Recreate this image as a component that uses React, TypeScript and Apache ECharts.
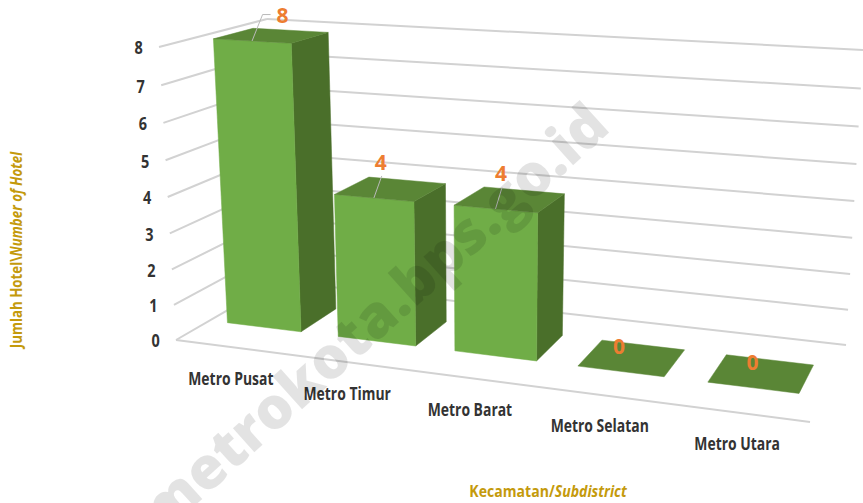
import React, { useEffect, useRef } from "react";
import * as echarts from "echarts";

const categories = ["Metro Pusat", "Metro Timur", "Metro Barat", "Metro Selatan", "Metro Utara"];
const hotelCounts = [8, 4, 4, 0, 0];
const yTicks = [0, 1, 2, 3, 4, 5, 6, 7, 8];
const yTitleMain = "Jumlah Hotel\\";
const yTitleItalic = "Number of Hotel";
const xTitleMain = "Kecamatan/";
const xTitleItalic = "Subdistrict";
const watermark = "metrokota.bps.go.id";

const W = 863;
const H = 503;
const Y_MAX = 8;
type P = [number, number];

// Perspective frame of the 3D chart: corners [front-left, front-right, back-right, back-left]
const FLOOR: P[] = [[176, 340], [810, 422], [846, 345], [278, 281]];
const TOP: P[] = [[159, 47], [822, 86], [863, 50], [267, 19]];
const HEIGHT_PERSPECTIVE = 0.953;
const BAR_FRONT = 0.305;
const BAR_BACK = 0.678;
const BAR_RATIO = 0.67;

// Offsets of the value labels from the centre of each bar's top face
const LABEL_OFFSETS: P[] = [[11, -21], [-10, -27], [-9, -26], [-13, -12], [-9, -11]];
// Leader lines: which bars have one
const LEADER_TAIL = [true, true, true, false, false];

function quadMap(q: P[]) {
  const [p0, p1, p2, p3] = q;
  const dx1 = p1[0] - p2[0], dy1 = p1[1] - p2[1];
  const dx2 = p3[0] - p2[0], dy2 = p3[1] - p2[1];
  const sx = p0[0] - p1[0] + p2[0] - p3[0], sy = p0[1] - p1[1] + p2[1] - p3[1];
  const D = dx1 * dy2 - dx2 * dy1;
  const g = (sx * dy2 - dx2 * sy) / D;
  const h = (dx1 * sy - sx * dy1) / D;
  const a = p1[0] - p0[0] + g * p1[0], b = p3[0] - p0[0] + h * p3[0], c = p0[0];
  const d = p1[1] - p0[1] + g * p1[1], e = p3[1] - p0[1] + h * p3[1], f = p0[1];
  return (u: number, w: number): P => {
    const z = g * u + h * w + 1;
    return [(a * u + b * w + c) / z, (d * u + e * w + f) / z];
  };
}
const floorMap = quadMap(FLOOR);
const topMap = quadMap(TOP);

// u: fraction across the chart, t: fraction of the height, w: fraction of the depth
function project(u: number, t: number, w: number): P {
  const s = (t * HEIGHT_PERSPECTIVE) / (t * HEIGHT_PERSPECTIVE + 1 - t);
  const a = floorMap(u, w), b = topMap(u, w);
  return [a[0] * (1 - s) + b[0] * s, a[1] * (1 - s) + b[1] * s];
}

const FONT = '"Open Sans", "Roboto", sans-serif';
const GRID_STYLE = { stroke: "#d2d2d2", lineWidth: 2, fill: "none" };

function line(a: P, b: P, style: any = GRID_STYLE) {
  return { type: "line", shape: { x1: a[0], y1: a[1], x2: b[0], y2: b[1] }, style };
}
function poly(points: P[], fill: string) {
  return {
    type: "polygon",
    shape: { points },
    style: { fill, stroke: fill, lineWidth: 0.5 },
  };
}
function axisText(text: string, x: number, y: number, size: number, scaleX: number) {
  return {
    type: "text",
    x,
    y,
    scaleX,
    style: {
      text,
      align: "center",
      verticalAlign: "middle",
      fill: "#333333",
      font: `bold ${size}px ${FONT}`,
    },
  };
}

const renderGrid = (_: any, api: any) => {
  const v = api.value(1);
  const t = (H - api.coord([0, v])[1]) / H;
  const children: any[] = [
    line(project(0, t, 0), project(0, t, 1)),
    line(project(0, t, 1), project(1, t, 1)),
  ];
  if (v === 0) children.push(line(project(0, 0, 0), project(1, 0, 0)));
  const s = project(0, t, 0);
  children.push(axisText(String(v), s[0] - 20.5, s[1] + 1, 17, 0.85));
  return { type: "group", children };
};

const renderBar = (params: any, api: any) => {
  const i = api.value(0);
  const v = api.value(1);
  const pos = api.coord([i, v]);
  const band = api.size([1, 0])[0] * BAR_RATIO;
  const u0 = (pos[0] - band / 2) / W;
  const u1 = (pos[0] + band / 2) / W;
  const t = (H - pos[1]) / H;
  const ftl = project(u0, t, BAR_FRONT), ftr = project(u1, t, BAR_FRONT);
  const btl = project(u0, t, BAR_BACK), btr = project(u1, t, BAR_BACK);
  const fbl = project(u0, 0, BAR_FRONT), fbr = project(u1, 0, BAR_FRONT);
  const bbr = project(u1, 0, BAR_BACK);
  const children: any[] = [];
  if (v > 0) {
    children.push(poly([ftr, btr, bbr, fbr], "#4a6f2a"));
    children.push(poly([ftl, ftr, fbr, fbl], "#70ad47"));
  }
  children.push(poly([ftl, ftr, btr, btl], "#5a8636"));
  const c = project((u0 + u1) / 2, t, (BAR_FRONT + BAR_BACK) / 2);
  const off = LABEL_OFFSETS[params.dataIndex];
  const lx = c[0] + off[0], ly = c[1] + off[1];
  if (LEADER_TAIL[params.dataIndex]) {
    const leader = { stroke: "#b9b9b9", lineWidth: 1, fill: "none" };
    const tip = project((u0 + u1) / 2, t, BAR_FRONT);
    if (off[0] > 0) {
      children.push({
        type: "polyline",
        shape: { points: [tip, [lx - 20, ly], [lx - 12, ly]] },
        style: leader,
      });
    } else {
      children.push(line(tip, [lx + 1, ly + 14], leader));
    }
  }
  children.push({
    type: "text",
    z2: 10,
    style: {
      text: String(v),
      x: lx,
      y: ly,
      align: "center",
      verticalAlign: "middle",
      fill: "#ed7d31",
      font: `bold 21px "Open Sans", sans-serif`,
    },
  });
  const base = project(pos[0] / W, 0, 0);
  children.push(axisText(categories[i], base[0] - 1, base[1] + 31, 17, 0.82));
  return { type: "group", children };
};

export default function App() {
  const ref = useRef<HTMLDivElement>(null);
  useEffect(() => {
    document.body.style.margin = "0";
    const chart = echarts.init(ref.current!, undefined, { renderer: "svg" });
    const titleRich = (fill: string) => ({
      a: { font: `bold 16px ${FONT}`, fill },
      b: { font: `italic bold 16px ${FONT}`, fill },
    });
    chart.setOption({
      animation: false,
      backgroundColor: "#ffffff",
      grid: { left: 0, right: 0, top: 0, bottom: 0 },
      xAxis: { type: "category", data: categories, show: false },
      yAxis: { type: "value", min: 0, max: Y_MAX, interval: 1, show: false },
      series: [
        {
          type: "custom",
          name: "grid",
          z: 1,
          silent: true,
          data: yTicks.map((v) => [0, v]),
          encode: { x: 0, y: 1 },
          renderItem: renderGrid,
        },
        {
          type: "custom",
          name: "Jumlah Hotel",
          z: 2,
          data: hotelCounts.map((v, i) => [i, v]),
          encode: { x: 0, y: 1 },
          renderItem: renderBar,
        },
      ],
      graphic: {
        elements: [
          {
            type: "text",
            x: 15,
            y: 250,
            rotation: Math.PI / 2,
            scaleX: 0.83,
            z: 50,
            style: {
              text: `{a|${yTitleMain}}{b|${yTitleItalic}}`,
              rich: titleRich("#c49a0c"),
              align: "center",
              verticalAlign: "middle",
            },
          },
          {
            type: "text",
            x: 548,
            y: 491,
            scaleX: 0.88,
            z: 50,
            style: {
              text: `{a|${xTitleMain}}{b|${xTitleItalic}}`,
              rich: titleRich("#c49a0c"),
              align: "center",
              verticalAlign: "middle",
            },
          },
          {
            type: "text",
            x: 372,
            y: 316,
            rotation: (42 * Math.PI) / 180,
            z: 100,
            style: {
              text: watermark,
              align: "center",
              verticalAlign: "middle",
              fill: "rgba(0,0,0,0.11)",
              font: '800 58px "Open Sans", sans-serif',
            },
          },
        ],
      },
    });
    return () => chart.dispose();
  }, []);
  return <div ref={ref} style={{ width: W, height: H }} />;
}
